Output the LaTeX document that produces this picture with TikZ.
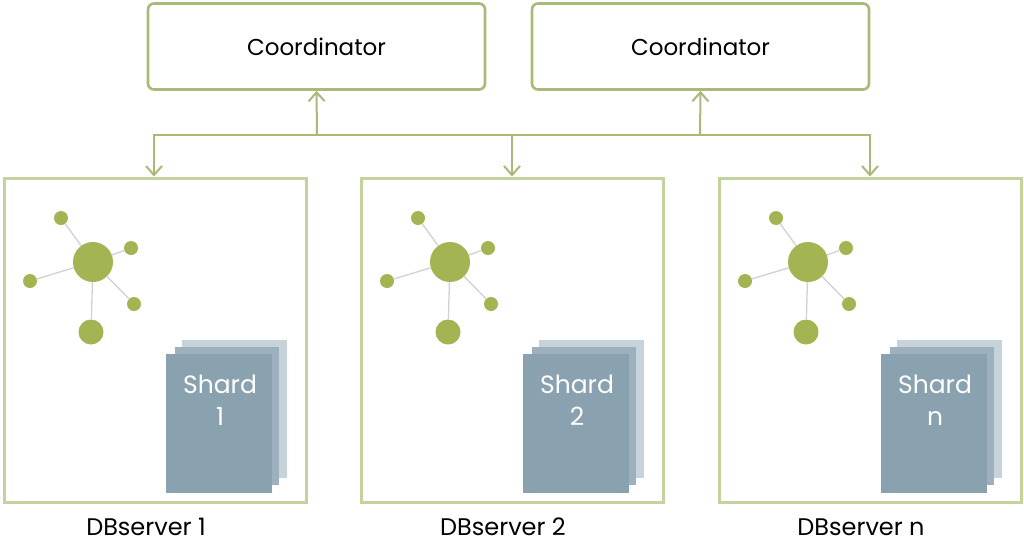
\documentclass[tikz,border=0pt]{standalone}
\usepackage{fontspec}
\setmainfont{Poppins}
\usetikzlibrary{arrows.meta}
\definecolor{gline}{HTML}{A7BA7A}
\definecolor{gbox}{HTML}{C3D39E}
\definecolor{gnode}{HTML}{A3B553}
\definecolor{sfront}{HTML}{8AA2B0}
\definecolor{smid}{HTML}{9CB1BD}
\definecolor{sback}{HTML}{C6D3DA}
\tikzset{
 coord/.style={draw=gline,line width=2.6pt,rounded corners=6pt,minimum width=337pt,minimum height=86pt,font=\fontsize{23}{26}\selectfont,inner sep=0},
 server/.style={draw=gbox,line width=3pt,minimum width=302pt,minimum height=324pt,inner sep=0},
 conn/.style={draw=gline,line width=2pt,-{Straight Barb[length=9pt,width=16pt,line width=2pt]}},
 big/.style={circle,fill=gnode,minimum size=40pt,inner sep=0},
 sm/.style={circle,fill=gnode,minimum size=14pt,inner sep=0},
 md/.style={circle,fill=gnode,minimum size=25pt,inner sep=0},
 spoke/.style={draw=black!18,line width=1.3pt},
 lab/.style={font=\fontsize{24}{28}\selectfont},
 shtxt/.style={text=white,font=\fontsize{25}{32}\selectfont,align=center}
}
\begin{document}
\begin{tikzpicture}[x=1pt,y=-1pt]
\useasboundingbox (0,0) rectangle (1024,549);
\node[coord] (co1) at (316.5,46.5) {Coordinator};
\node[coord] (co2) at (700.5,46.5) {Coordinator};
\foreach \i/\dx/\t in {1/0/1,2/357/2,3/715/n}{
 \begin{scope}[xshift=\dx pt]
 \node[server] (s\i) at (155,340) {};
 \node[lab] (l\i) at (146,527) {DBserver \t};
 \node[big] (h\i) at (93,262) {};
 \node[sm] (a\i) at (61,218) {};
 \node[sm] (b\i) at (131,248) {};
 \node[sm] (c\i) at (30,281) {};
 \node[sm] (d\i) at (134,304) {};
 \node[md] (e\i) at (91,332) {};
 \foreach \n in {a,b,c,d,e}{\draw[spoke] (h\i) -- (\n\i);}
 \fill[sback] (182,340) rectangle (287,478);
 \fill[smid] (175,347) rectangle (279,485);
 \fill[sfront] (166,354) rectangle (272,493);
 \node[shtxt] (t\i) at (220,400) {Shard\\\t};
 \end{scope}
}
\coordinate (j1) at (317,135);
\coordinate (j2) at (700,135);
\draw[gline,line width=2pt] (154,135) -- (870,135);
\draw[conn] (j1) -- (co1.south);
\draw[conn] (j2) -- (co2.south);
\draw[conn] (154,134) -- (s1.north -| 154,0);
\draw[conn] (512,135) -- (s2.north -| 512,0);
\draw[conn] (870,134) -- (s3.north -| 870,0);
\end{tikzpicture}
\end{document}
